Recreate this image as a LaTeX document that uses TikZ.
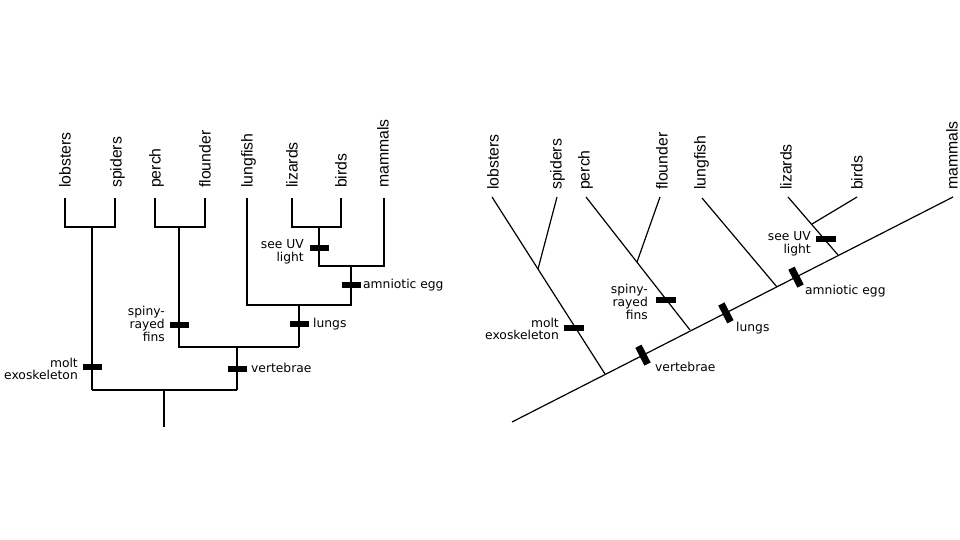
\documentclass[tikz,border=0pt]{standalone}
\usepackage{fontspec}
\setmainfont{Liberation Sans}
\newfontfamily\annfont{DejaVu Sans}
\usetikzlibrary{calc}
\begin{document}
\begin{tikzpicture}[x=1bp,y=-1bp,
  tree/.style={line width=1.2bp, black},
  taxon/.style={rotate=90, anchor=west, inner sep=0pt, text height=11.3bp, text depth=0pt,
    font=\fontsize{15.8bp}{18bp}\selectfont},
  ann/.style={inner sep=0pt, font=\annfont\fontsize{12.3bp}{12.8bp}\selectfont},
  annb/.style={ann, anchor=base west},
  annr/.style={ann, anchor=east, align=right},
  bar/.style={fill=black, draw=none, minimum width=19bp, minimum height=6.5bp, inner sep=0pt},
  rbar/.style={bar, minimum width=20bp, minimum height=7bp, rotate=117}]
\useasboundingbox (0,0) rectangle (960,540);

% ---------------- left tree ----------------
\coordinate (Llob) at (65,198);   \coordinate (Llobb) at (65,227);
\coordinate (Lspi) at (115,198);  \coordinate (Lspib) at (115,227);
\coordinate (Lls) at (92,227);    \coordinate (Llsb) at (92,390);
\coordinate (Lper) at (155,198);  \coordinate (Lperb) at (155,227);
\coordinate (Lflo) at (205,198);  \coordinate (Lflob) at (205,227);
\coordinate (Lpf) at (179,227);   \coordinate (Lpfb) at (179,347);
\coordinate (Llun) at (247,198);  \coordinate (Llunb) at (247,305);
\coordinate (Lliz) at (292,198);  \coordinate (Llizb) at (292,227);
\coordinate (Lbir) at (341,198);  \coordinate (Lbirb) at (341,227);
\coordinate (Llb) at (319,227);   \coordinate (Llbb) at (319,266);
\coordinate (Lmam) at (384,198);  \coordinate (Lmamb) at (384,266);
\coordinate (Lam) at (351,266);   \coordinate (Lamb) at (351,305);
\coordinate (Llg) at (299,305);   \coordinate (Llgb) at (299,347);
\coordinate (Lvt) at (237,347);   \coordinate (Lvtb) at (237,390);
\coordinate (Lroot) at (164,390); \coordinate (Lrootb) at (164,427);

\draw[tree] (Llob) -- (Llobb) -- (Lspib) -- (Lspi);
\draw[tree] (Lls) -- (Llsb);
\draw[tree] (Lper) -- (Lperb) -- (Lflob) -- (Lflo);
\draw[tree] (Lpf) -- (Lpfb) -- (Llgb);
\draw[tree] (Lliz) -- (Llizb) -- (Lbirb) -- (Lbir);
\draw[tree] (Llb) -- (Llbb) -- (Lmamb) -- (Lmam);
\draw[tree] (Llun) -- (Llunb) -- (Lamb) -- (Lam);
\draw[tree] (Llg) -- (Llgb);
\draw[tree] (Lvt) -- (Lvtb);
\draw[tree] (Llsb) -- (Lvtb);
\draw[tree] (Lroot) -- (Lrootb);

\node[taxon] (tLlob) at (65,188) {lobsters};
\node[taxon] (tLspi) at (116,188) {spiders};
\node[taxon] (tLper) at (155,188) {perch};
\node[taxon] (tLflo) at (205,188) {flounder};
\node[taxon] (tLlun) at (247,188) {lungfish};
\node[taxon] (tLliz) at (292,188) {lizards};
\node[taxon] (tLbir) at (341,188) {birds};
\node[taxon] (tLmam) at (383,188) {mammals};

\node[bar] (bLmolt) at (92,367) {};
\node[annr] (aLmolt) at (78,369) {molt\\exoskeleton};
\node[bar] (bLfins) at (179,325) {};
\node[annr] (aLfins) at (165,324) {spiny-\\rayed\\fins};
\node[bar] (bLvert) at (237,369) {};
\node[annb] (aLvert) at (251,373) {vertebrae};
\node[bar] (bLlung) at (299,324) {};
\node[annb] (aLlung) at (313,328) {lungs};
\node[bar] (bLamn) at (351,285) {};
\node[annb] (aLamn) at (363,289) {amniotic egg};
\node[bar] (bLuv) at (319,248) {};
\node[annr] (aLuv) at (304,251.5) {see UV\\light};

% ---------------- right tree ----------------
\coordinate (Rroot) at (512,422);
\coordinate (Rmam) at (953,197);
\coordinate (Rlob) at (492,197);  \coordinate (Rlobj) at (605,374);
\coordinate (Rspi) at (557,197);  \coordinate (Rspij) at (538,269);
\coordinate (Rper) at (586,197);  \coordinate (Rperj) at (690,330);
\coordinate (Rflo) at (660,197);  \coordinate (Rfloj) at (637,262);
\coordinate (Rlun) at (702,198);  \coordinate (Rlunj) at (777,287);
\coordinate (Rliz) at (788,197);  \coordinate (Rlizj) at (838,255);
\coordinate (Rbir) at (857,197);  \coordinate (Rbirj) at (812,224);

\draw[tree] (Rroot) -- (Rmam);
\draw[tree] (Rlob) -- (Rlobj);
\draw[tree] (Rspi) -- (Rspij);
\draw[tree] (Rper) -- (Rperj);
\draw[tree] (Rflo) -- (Rfloj);
\draw[tree] (Rlun) -- (Rlunj);
\draw[tree] (Rliz) -- (Rlizj);
\draw[tree] (Rbir) -- (Rbirj);

\node[taxon] (tRlob) at (493,190) {lobsters};
\node[taxon] (tRspi) at (556,190) {spiders};
\node[taxon] (tRper) at (584,190) {perch};
\node[taxon] (tRflo) at (662,190) {flounder};
\node[taxon] (tRlun) at (700,190) {lungfish};
\node[taxon] (tRliz) at (786,190) {lizards};
\node[taxon] (tRbir) at (857,190) {birds};
\node[taxon] (tRmam) at (952,190) {mammals};

\node[bar, minimum width=20bp] (bRmolt) at (574,328) {};
\node[annr] (aRmolt) at (559,329) {molt\\exoskeleton};
\node[bar, minimum width=20bp] (bRfins) at (666,300) {};
\node[annr] (aRfins) at (648,302) {spiny-\\rayed\\fins};
\node[bar, minimum width=20bp] (bRuv) at (826,239) {};
\node[annr] (aRuv) at (811,244) {see UV\\light};
\node[rbar] (bRvert) at ($(Rroot)!0.297!(Rmam)$) {};
\node[annb] (aRvert) at (655,372) {vertebrae};
\node[rbar] (bRlung) at ($(Rroot)!0.485!(Rmam)$) {};
\node[annb] (aRlung) at (736,332) {lungs};
\node[rbar] (bRamn) at ($(Rroot)!0.644!(Rmam)$) {};
\node[annb] (aRamn) at (805,295) {amniotic egg};
\end{tikzpicture}
\end{document}
